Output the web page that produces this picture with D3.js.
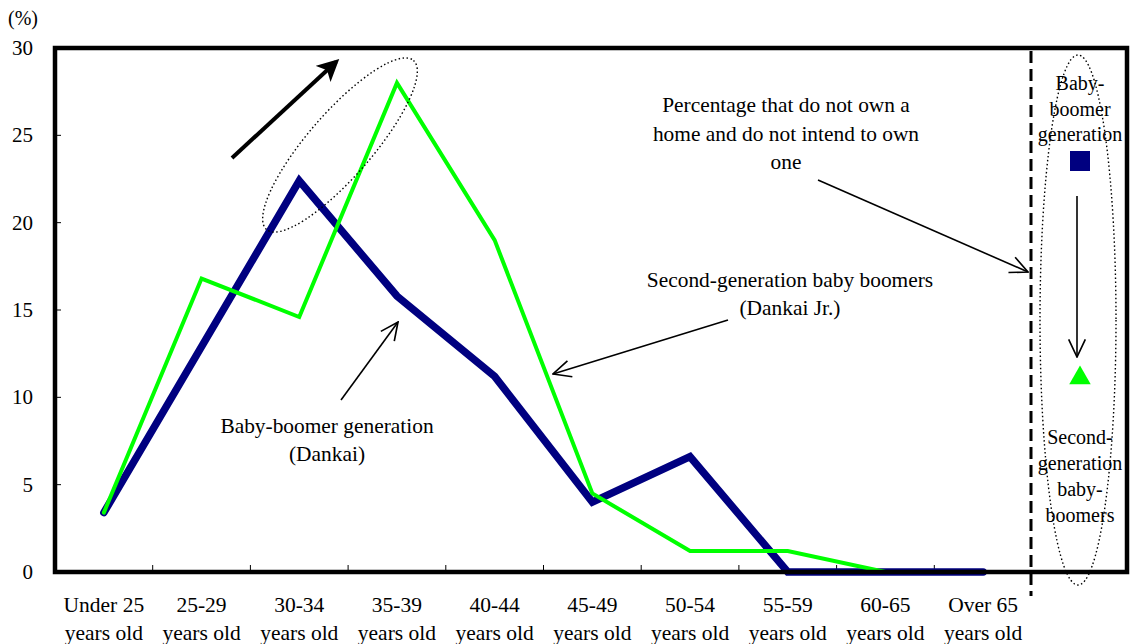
<!DOCTYPE html>
<html>
<head>
<meta charset="utf-8">
<script src="https://cdn.jsdelivr.net/npm/d3@7"></script>
<style>
  html, body { margin: 0; padding: 0; background: #fff; }
  svg text { font-family: "Liberation Serif", "Times New Roman", "DejaVu Serif", serif; }
</style>
</head>
<body>
<svg id="chart" width="1131" height="644"></svg>
<script>
// Age groups (two-line tick labels)
const categories = [
  "Under 25", "25-29", "30-34", "35-39", "40-44",
  "45-49", "50-54", "55-59", "60-65", "Over 65"
];
const categorySubLabel = "years old";

// Share (%) that do not own a home and do not intend to own one
const dankai   = [3.4, 12.9, 22.4, 15.8, 11.2, 4.0, 6.6, 0, 0, 0];
const dankaiJr = [3.4, 16.8, 14.6, 28.0, 19.0, 4.5, 1.2, 1.2, 0, 0];

const yTicks = [0, 5, 10, 15, 20, 25, 30];

const svg = d3.select("#chart");
const serif = "'Liberation Serif', 'Times New Roman', 'DejaVu Serif', serif";

const frame = { left: 55, top: 48, right: 1127, bottom: 572 };
const panelEdge = 1032; // dashed divider between chart and side panel

const x = d3.scaleBand().domain(categories).range([frame.left, panelEdge]).padding(0);
const y = d3.scaleLinear().domain([0, 30]).range([frame.bottom, frame.top]);

const navy = "#000080";
const green = "#00ff00";

// arrow markers
const defs = svg.append("defs");
defs.append("marker")
  .attr("id", "head-filled")
  .attr("viewBox", "0 0 10 10")
  .attr("refX", 8).attr("refY", 5)
  .attr("markerWidth", 5.5).attr("markerHeight", 5.5)
  .attr("markerUnits", "strokeWidth")
  .attr("orient", "auto")
  .append("path").attr("d", "M0,0 L10,5 L0,10 L2.5,5 Z").attr("fill", "#000");
defs.append("marker")
  .attr("id", "head-open")
  .attr("viewBox", "0 0 20 20")
  .attr("refX", 19).attr("refY", 10)
  .attr("markerWidth", 13).attr("markerHeight", 13)
  .attr("markerUnits", "strokeWidth")
  .attr("orient", "auto")
  .append("path").attr("d", "M2,2 L19,10 L2,18")
  .attr("fill", "none").attr("stroke", "#000").attr("stroke-width", 1.6);

// x ticks (inside, pointing up from the axis)
svg.append("g")
  .selectAll("line")
  .data(categories.slice(1))
  .join("line")
  .attr("x1", d => x(d)).attr("x2", d => x(d))
  .attr("y1", frame.bottom).attr("y2", frame.bottom - 7)
  .attr("stroke", "#000").attr("stroke-width", 1);

// y ticks (inside)
svg.append("g")
  .selectAll("line")
  .data(yTicks)
  .join("line")
  .attr("x1", frame.left).attr("x2", frame.left + 6)
  .attr("y1", d => y(d)).attr("y2", d => y(d))
  .attr("stroke", "#000").attr("stroke-width", 1);

// y tick labels
svg.append("g")
  .selectAll("text")
  .data(yTicks)
  .join("text")
  .attr("x", 33).attr("y", d => y(d) + 7)
  .attr("text-anchor", "end")
  .attr("font-family", serif)
  .attr("font-size", 21)
  .text(d => d);

svg.append("text").attr("x", 8).attr("y", 25)
  .attr("font-family", serif).attr("font-size", 20).text("(%)");

// x tick labels
const xl = svg.append("g").selectAll("text")
  .data(categories)
  .join("text")
  .attr("x", d => x(d) + x.bandwidth() / 2)
  .attr("text-anchor", "middle")
  .attr("font-family", serif)
  .attr("font-size", 21.5);
xl.append("tspan").attr("x", d => x(d) + x.bandwidth() / 2).attr("y", 612).text(d => d);
xl.append("tspan").attr("x", d => x(d) + x.bandwidth() / 2).attr("y", 640).text(categorySubLabel);

// series lines
const line = d3.line()
  .x((d, i) => x(categories[i]) + x.bandwidth() / 2)
  .y(d => y(d));

svg.append("path")
  .datum(dankai)
  .attr("d", line)
  .attr("fill", "none")
  .attr("stroke", navy)
  .attr("stroke-width", 7.5)
  .attr("stroke-linecap", "round")
  .attr("stroke-linejoin", "miter");

svg.append("path")
  .datum(dankaiJr)
  .attr("d", line)
  .attr("fill", "none")
  .attr("stroke", green)
  .attr("stroke-width", 4)
  .attr("stroke-linecap", "round")
  .attr("stroke-linejoin", "miter");

// plot frame
svg.append("rect")
  .attr("x", frame.left).attr("y", frame.top)
  .attr("width", frame.right - frame.left).attr("height", frame.bottom - frame.top)
  .attr("fill", "none").attr("stroke", "#000").attr("stroke-width", 4.5);

// dashed divider
svg.append("line")
  .attr("x1", panelEdge - 1).attr("x2", panelEdge - 1)
  .attr("y1", frame.top + 3).attr("y2", 596)
  .attr("stroke", "#000").attr("stroke-width", 3)
  .attr("stroke-dasharray", "12,6");

// highlight ellipse around the peaks with the shift arrow
svg.append("ellipse")
  .attr("cx", 340).attr("cy", 145).attr("rx", 112).attr("ry", 32)
  .attr("transform", "rotate(-49 340 145)")
  .attr("fill", "none").attr("stroke", "#000").attr("stroke-width", 1.4)
  .attr("stroke-dasharray", "1.5,2.5");

svg.append("line")
  .attr("x1", 232).attr("y1", 158).attr("x2", 336).attr("y2", 62)
  .attr("stroke", "#000").attr("stroke-width", 4)
  .attr("marker-end", "url(#head-filled)");

// annotation text helper
function label(lines, cx, y0, dy, size) {
  const t = svg.append("text").attr("text-anchor", "middle")
    .attr("font-family", serif).attr("font-size", size);
  lines.forEach((s, i) => t.append("tspan").attr("x", cx).attr("y", y0 + i * dy).text(s));
}

label(["Percentage that do not own a", "home and do not intend to own", "one"], 786, 112, 28.5, 21.4);
label(["Second-generation baby boomers", "(Dankai Jr.)"], 790, 287, 28, 21.4);
label(["Baby-boomer generation", "(Dankai)"], 327, 433, 28, 21.4);

function arrow(x1, y1, x2, y2) {
  svg.append("line")
    .attr("x1", x1).attr("y1", y1).attr("x2", x2).attr("y2", y2)
    .attr("stroke", "#000").attr("stroke-width", 1.6)
    .attr("marker-end", "url(#head-open)");
}
arrow(818, 180, 1028, 272);
arrow(728, 320, 553, 374);
arrow(341, 400, 398, 322);

// side panel: generation legend
svg.append("ellipse")
  .attr("cx", 1078).attr("cy", 320).attr("rx", 38).attr("ry", 265)
  .attr("fill", "none").attr("stroke", "#000").attr("stroke-width", 1.4)
  .attr("stroke-dasharray", "1.5,2.5");

label(["Baby-", "boomer", "generation"], 1080, 90, 25.5, 20);
label(["Second-", "generation", "baby-", "boomers"], 1080, 444, 26, 20);

svg.append("path")
  .attr("d", d3.symbol(d3.symbolSquare, 400)())
  .attr("transform", "translate(1080,161)")
  .attr("fill", navy);

svg.append("path")
  .attr("d", d3.symbol(d3.symbolTriangle, 200)())
  .attr("transform", "translate(1080,378)")
  .attr("fill", green);

arrow(1077, 196, 1077, 357);
</script>
</body>
</html>
